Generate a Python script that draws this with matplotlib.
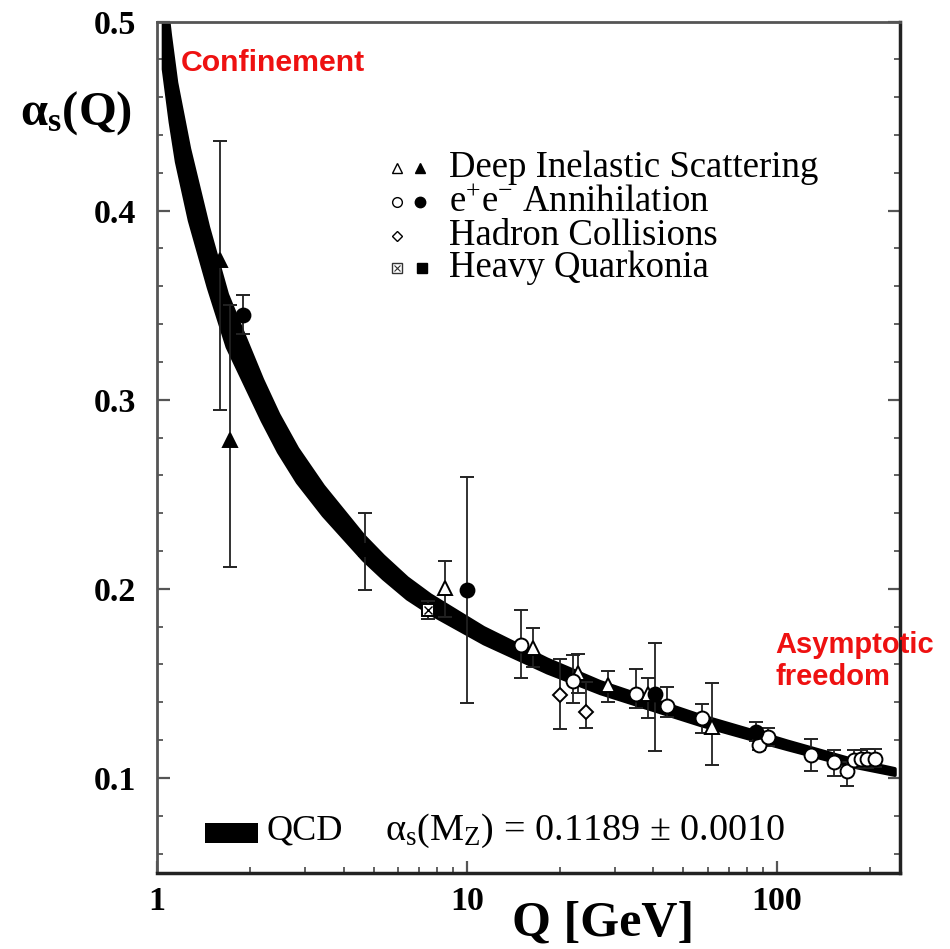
import matplotlib
matplotlib.use("Agg")
import matplotlib.pyplot as plt
from matplotlib.ticker import FixedLocator, NullFormatter, LogLocator, MultipleLocator
from matplotlib.patches import Rectangle

plt.rcParams['font.family'] = ['Liberation Serif', 'DejaVu Serif']
plt.rcParams['mathtext.fontset'] = 'custom'
plt.rcParams['mathtext.rm'] = 'Liberation Serif'
plt.rcParams['mathtext.it'] = 'Liberation Serif:italic'
plt.rcParams['mathtext.bf'] = 'Liberation Serif:bold'

# ---------------- data ----------------
# QCD band (centre and vertical half-width)
curve_q = [1.045, 1.10, 1.152, 1.268, 1.46, 1.68, 2.18, 2.46, 2.83, 3.43, 4.62, 5.36, 6.4, 7.6,
           11.3, 18.1, 26.9, 56.5, 88, 108, 176, 240]
curve_a = [0.500, 0.470, 0.447, 0.414, 0.3755, 0.342, 0.300, 0.2825, 0.2655, 0.2468, 0.222, 0.2116, 0.2005, 0.192,
           0.1755, 0.1595, 0.148, 0.1307, 0.1217, 0.1175, 0.108, 0.1034]
curve_hw = [0.025, 0.023, 0.021, 0.019, 0.016, 0.014, 0.011, 0.010, 0.009, 0.0078, 0.0065, 0.006, 0.0055, 0.005,
            0.0042, 0.0036, 0.0031, 0.0026, 0.0024, 0.0022, 0.0019, 0.0017]

# Deep inelastic scattering, open triangles
dis_open_q = [8.5, 16.3, 22.8, 28.5, 38.4, 61.7]
dis_open_a = [0.2004, 0.1685, 0.1553, 0.1491, 0.1444, 0.1271]
dis_open_lo = [0.1850, 0.1588, 0.1447, 0.1403, 0.1315, 0.1068]
dis_open_hi = [0.2147, 0.1794, 0.1654, 0.1567, 0.1527, 0.1500]
# Deep inelastic scattering, filled triangles
dis_fill_q = [1.6, 1.72]
dis_fill_a = [0.3739, 0.2787]
dis_fill_lo = [0.2947, 0.2115]
dis_fill_hi = [0.4368, 0.3501]

# e+e- annihilation, open circles
ee_open_q = [14.9, 22.0, 35.1, 44.2, 57.3, 87.5, 93.5, 129, 153, 168, 178, 187, 196, 208]
ee_open_a = [0.1703, 0.1512, 0.1444, 0.1382, 0.1315, 0.1176, 0.1218, 0.1121, 0.1086, 0.1037, 0.1095, 0.1098, 0.1100, 0.1102]
ee_open_lo = [0.1530, 0.1395, 0.1368, 0.1324, 0.1239, 0.1150, 0.1170, 0.1038, 0.1010, 0.0957, 0.1050, 0.1052, 0.1054, 0.1056]
ee_open_hi = [0.1890, 0.1650, 0.1574, 0.1482, 0.1391, 0.1200, 0.1265, 0.1204, 0.1148, 0.1086, 0.1148, 0.1150, 0.1152, 0.1152]
# e+e- annihilation, filled circles
ee_fill_q = [1.89, 10.0, 40.4, 86.0]
ee_fill_a = [0.3448, 0.1994, 0.1444, 0.1244]
ee_fill_lo = [0.3346, 0.1396, 0.1140, 0.1195]
ee_fill_hi = [0.3554, 0.2591, 0.1715, 0.1297]

# Hadron collisions, open diamonds
had_q = [20.0, 24.2]
had_a = [0.1438, 0.1347]
had_lo = [0.1259, 0.1266]
had_hi = [0.1627, 0.1509]

# Heavy quarkonia: crossed square and filled square
hq_open_q = [7.49]
hq_open_a = [0.1888]
hq_open_lo = [0.1840]
hq_open_hi = [0.1935]
hq_fill_q = [4.69]
hq_fill_a = [0.2205]
hq_fill_lo = [0.1996]
hq_fill_hi = [0.2401]

legend_labels = ["Deep Inelastic Scattering", "e$^{+}$e$^{-}$ Annihilation",
                 "Hadron Collisions", "Heavy Quarkonia"]
x_ticks = [1, 10, 100]
x_tick_labels = ["1", "10", "100"]
y_ticks = [0.1, 0.2, 0.3, 0.4, 0.5]
y_tick_labels = ["0.1", "0.2", "0.3", "0.4", "0.5"]

# ---------------- figure ----------------
W, H = 950, 949
fig = plt.figure(figsize=(9.5, 9.49), dpi=100)
L, R, T, B = 157, 900, 21.5, 872.5
ax = fig.add_axes([L / W, 1 - B / H, (R - L) / W, (B - T) / H])

ax.set_xscale('log')
ax.set_xlim(1, 250)
ax.set_ylim(0.05, 0.5)

# band
lo = [a - h for a, h in zip(curve_a, curve_hw)]
hi = [a + h for a, h in zip(curve_a, curve_hw)]
ax.fill_between(curve_q, lo, hi, color='black', lw=2.5, joinstyle='round', zorder=2)

ekw = dict(ecolor='#222222', elinewidth=1.3, capsize=5, capthick=1.3, ls='none', zorder=3)

def errs(a, l, h):
    return [[ai - li for ai, li in zip(a, l)], [hi_ - ai for ai, hi_ in zip(a, h)]]

ax.errorbar(dis_open_q, dis_open_a, yerr=errs(dis_open_a, dis_open_lo, dis_open_hi),
            marker='^', ms=10, mfc='white', mec='black', mew=1.4, **ekw)
ax.errorbar(dis_fill_q, dis_fill_a, yerr=errs(dis_fill_a, dis_fill_lo, dis_fill_hi),
            marker='^', ms=10, mfc='black', mec='black', mew=1.4, **ekw)
ax.errorbar(ee_open_q, ee_open_a, yerr=errs(ee_open_a, ee_open_lo, ee_open_hi),
            marker='o', ms=10, mfc='white', mec='black', mew=1.4, **ekw)
ax.errorbar(ee_fill_q, ee_fill_a, yerr=errs(ee_fill_a, ee_fill_lo, ee_fill_hi),
            marker='o', ms=10, mfc='black', mec='black', mew=1.4, **ekw)
ax.errorbar(had_q, had_a, yerr=errs(had_a, had_lo, had_hi),
            marker='D', ms=7.5, mfc='white', mec='black', mew=1.4, **ekw)
ax.errorbar(hq_open_q, hq_open_a, yerr=errs(hq_open_a, hq_open_lo, hq_open_hi),
            marker='s', ms=9, mfc='white', mec='black', mew=1.4, **ekw)
ax.plot(hq_open_q, hq_open_a, ls='none', marker='x', ms=5.5, mec='black', mew=1.0, zorder=4)
ax.errorbar(hq_fill_q, hq_fill_a, yerr=errs(hq_fill_a, hq_fill_lo, hq_fill_hi),
            marker='s', ms=9, mfc='black', mec='black', mew=1.4, **ekw)

# axes styling
for s in ['left', 'top']:
    ax.spines[s].set_color('#555555')
    ax.spines[s].set_linewidth(2.0)
for s in ['right', 'bottom']:
    ax.spines[s].set_color('#222222')
    ax.spines[s].set_linewidth(2.5)

ax.xaxis.set_major_locator(FixedLocator(x_ticks))
ax.set_xticklabels(x_tick_labels)
ax.xaxis.set_minor_locator(LogLocator(base=10, subs=[2, 3, 4, 5, 6, 7, 8, 9]))
ax.xaxis.set_minor_formatter(NullFormatter())
ax.yaxis.set_major_locator(FixedLocator(y_ticks))
ax.set_yticklabels(y_tick_labels)
ax.yaxis.set_minor_locator(MultipleLocator(0.02))

ax.tick_params(which='both', direction='in', top=False, right=True, color='#555555')
ax.tick_params(which='major', length=9, width=1.6)
ax.tick_params(which='minor', length=4, width=1.3)
ax.tick_params(axis='x', which='major', pad=10)
ax.tick_params(axis='y', which='major', pad=15)
for lab in ax.get_xticklabels() + ax.get_yticklabels():
    lab.set_fontsize(24.5)
    lab.set_fontweight('bold')

def fx(x):
    return (x - L) / (R - L)

def fy(y):
    return (B - y) / (B - T)

# legend (top)
rows_y = [168, 202, 236, 268]
ax.plot([fx(397)], [fy(rows_y[0])], transform=ax.transAxes, marker='^', ms=7, mfc='white', mec='black', mew=1.0, ls='none')
ax.plot([fx(420)], [fy(rows_y[0])], transform=ax.transAxes, marker='^', ms=7, mfc='black', mec='black', ls='none')
ax.plot([fx(397)], [fy(rows_y[1])], transform=ax.transAxes, marker='o', ms=7, mfc='white', mec='black', mew=1.0, ls='none')
ax.plot([fx(420)], [fy(rows_y[1])], transform=ax.transAxes, marker='o', ms=7.5, mfc='black', mec='black', ls='none')
ax.plot([fx(397)], [fy(rows_y[2])], transform=ax.transAxes, marker='D', ms=5.5, mfc='white', mec='black', mew=1.0, ls='none')
ax.plot([fx(397)], [fy(rows_y[3])], transform=ax.transAxes, marker='s', ms=7, mfc='white', mec='#333333', mew=1.0, ls='none')
ax.plot([fx(397)], [fy(rows_y[3])], transform=ax.transAxes, marker='x', ms=4.5, mec='#333333', mew=0.8, ls='none')
ax.plot([fx(422)], [fy(rows_y[3])], transform=ax.transAxes, marker='s', ms=7.5, mfc='black', mec='black', ls='none')
for yy, lab in zip(rows_y, legend_labels):
    ax.text(fx(449), fy(yy), lab, transform=ax.transAxes, fontsize=26.5, va='center', ha='left')

# legend (bottom)
ax.add_patch(Rectangle((fx(205), fy(843)), fx(258) - fx(205), fy(823) - fy(843),
                       transform=ax.transAxes, color='black', lw=0))
ax.text(fx(266), fy(831), "QCD", transform=ax.transAxes, fontsize=26, va='center', ha='left')
ax.text(fx(385), fy(831), r"$\mathrm{\alpha_{s}(M_{Z})}$ = 0.1189 ± 0.0010", transform=ax.transAxes,
        fontsize=27.5, va='center', ha='left')

# annotations
ax.text(fx(181), fy(63), "Confinement", transform=ax.transAxes, color='#ee1111',
        fontsize=21.8, fontweight='bold', family='Liberation Sans', va='center', ha='left')
ax.text(fx(775), fy(661), "Asymptotic\nfreedom", transform=ax.transAxes, color='#ee1111',
        fontsize=21, fontweight='bold', family='Liberation Sans', va='center', ha='left',
        linespacing=1.15, clip_on=False, zorder=6)

# axis labels
fig.text(20 / W, 1 - 113 / H, r"$\mathbf{\alpha_{s}(Q)}$", fontsize=35, va='center', ha='left')
fig.text(603 / W, 1 - 924 / H, "Q [GeV]", fontsize=36, fontweight='bold', va='center', ha='center')

fig.savefig("out.png", dpi=100)
